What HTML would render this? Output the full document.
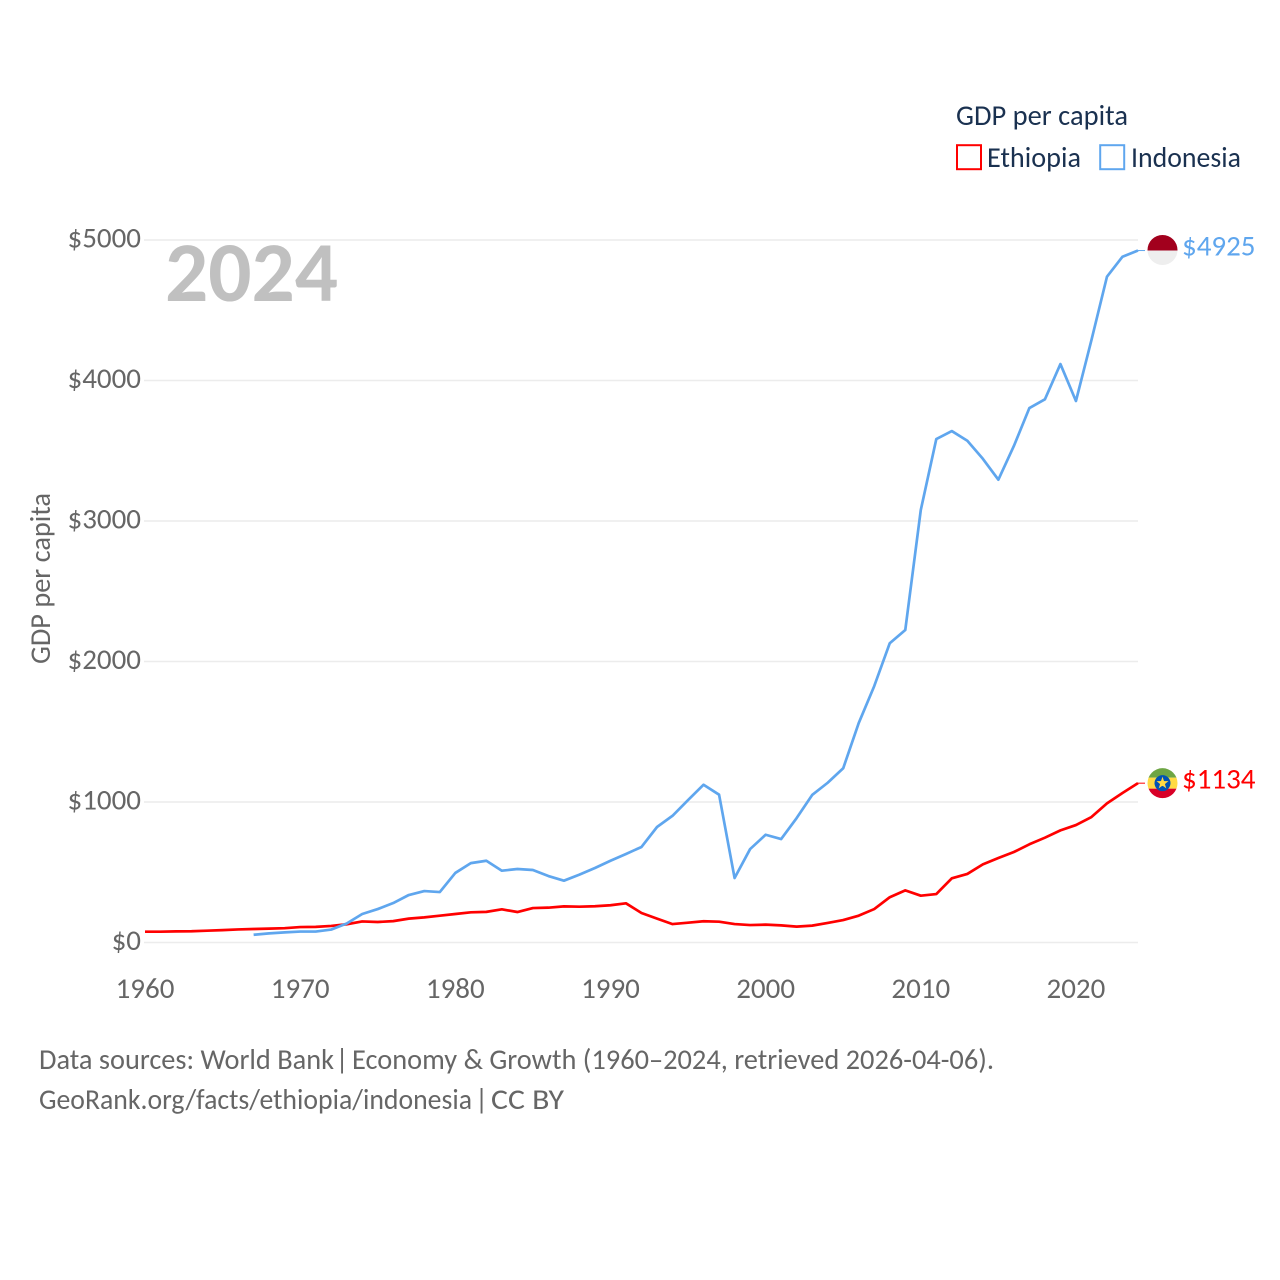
<!DOCTYPE html>
<html lang="en">
<head>
<meta charset="utf-8">
<title>GDP per capita: Ethiopia and Indonesia</title>
<style>
html,body{margin:0;padding:0;background:#fff;}
svg{display:block;}
text{font-family:"Carlito","Lato","Liberation Sans",sans-serif;}
</style>
</head>
<body>
<svg id="chart" xmlns="http://www.w3.org/2000/svg" width="1280" height="1280" viewBox="0 0 1280 1280">
  <defs>
    <clipPath id="flag-clip-id"><circle cx="0" cy="0" r="15"></circle></clipPath>
    <clipPath id="flag-clip-et"><circle cx="0" cy="0" r="15"></circle></clipPath>
  </defs>
  <rect width="1280" height="1280" fill="#ffffff"></rect>
  <g id="grid"></g>
  <g id="y-axis"></g>
  <g id="x-axis"></g>
  <text x="165" y="301" font-size="85" font-weight="700" fill="#c0c0c0" textLength="173" lengthAdjust="spacingAndGlyphs">2024</text>
  <text transform="translate(50,664) rotate(-90)" font-size="28.5" fill="#666666" textLength="171" lengthAdjust="spacingAndGlyphs">GDP per capita</text>
  <g id="series"></g>
  <g id="end-labels"></g>
  <g>
    <text x="956" y="125" font-size="28.5" fill="#1a3150" textLength="172" lengthAdjust="spacingAndGlyphs">GDP per capita</text>
    <g>
      <rect x="957" y="145.2" width="24" height="24" fill="#ffffff" stroke="#ff0000" stroke-width="2"></rect>
      <text x="987" y="167" font-size="28.5" fill="#1a3150" textLength="94" lengthAdjust="spacingAndGlyphs">Ethiopia</text>
    </g>
    <g>
      <rect x="1100.2" y="145.2" width="24" height="24" fill="#ffffff" stroke="#5fa6ee" stroke-width="2"></rect>
      <text x="1131" y="167" font-size="28.5" fill="#1a3150" textLength="110" lengthAdjust="spacingAndGlyphs">Indonesia</text>
    </g>
  </g>
  <g>
    <text x="39" y="1069" font-size="28.5" fill="#666666" textLength="295" lengthAdjust="spacingAndGlyphs">Data sources: World Bank</text>
    <text x="342" y="1069" font-size="28.5" fill="#666666" text-anchor="middle">|</text>
    <text x="352" y="1069" font-size="28.5" fill="#666666" textLength="642" lengthAdjust="spacingAndGlyphs">Economy &amp; Growth (1960–2024, retrieved 2026-04-06).</text>
  </g>
  <g>
    <text x="39" y="1109" font-size="28.5" fill="#666666" textLength="433" lengthAdjust="spacingAndGlyphs">GeoRank.org/facts/ethiopia/indonesia</text>
    <text x="481.5" y="1109" font-size="28.5" fill="#666666" text-anchor="middle">|</text>
    <text x="491" y="1109" font-size="28.5" fill="#666666" textLength="73" lengthAdjust="spacingAndGlyphs">CC BY</text>
  </g>
</svg>
<script>
const yearStart = 1960;
const yearEnd = 2024;
const xTickYears = [1960, 1970, 1980, 1990, 2000, 2010, 2020];
const yTickValues = [0, 1000, 2000, 3000, 4000, 5000];
const ethiopiaStartYear = 1960;
const ethiopiaValues = [77,77,79,80,84,88,93,96,99,102,110,111,118,130,150,146,152,170,179,191,203,215,218,236,217,245,248,257,255,258,265,279,210,170,131,141,151,148,131,124,127,122,113,120,139,160,191,238,322,371,333,345,457,488,556,601,644,699,746,798,836,893,990,1064,1134];
const indonesiaStartYear = 1967;
const indonesiaValues = [55,65,72,78,78,92,135,203,238,281,338,366,359,495,565,582,511,523,516,473,440,483,530,582,630,680,822,902,1014,1123,1052,459,665,767,736,886,1050,1137,1240,1562,1825,2130,2224,3078,3583,3640,3571,3443,3294,3534,3804,3866,4117,3854,4288,4739,4881,4925];
const ethiopiaLabel = "$1134";
const indonesiaLabel = "$4925";

const NS = "http://www.w3.org/2000/svg";
const xScale = function (year) { return 145 + (year - yearStart) * (993 / (yearEnd - yearStart)); };
const yScale = function (value) { return 942.5 - value * 0.1405; };
const make = function (tag, attrs, parent) {
  const el = document.createElementNS(NS, tag);
  Object.keys(attrs).forEach(function (k) { el.setAttribute(k, attrs[k]); });
  parent.appendChild(el);
  return el;
};

const grid = document.getElementById("grid");
const yAxis = document.getElementById("y-axis");
yTickValues.forEach(function (v) {
  const line = make("line", { x1: 144, x2: 1138, y1: yScale(v), y2: yScale(v), stroke: "#ececec", "stroke-width": 1.5 }, grid);
  
  
  const label = make("text", { x: 141, y: yScale(v) + 7.5, "text-anchor": "end", "font-size": 29, fill: "#666666" }, yAxis);
  label.textContent = "$" + v;
  
  
});

const xAxis = document.getElementById("x-axis");
xTickYears.forEach(function (y) {
  const label = make("text", { x: xScale(y), y: 998, "text-anchor": "middle", "font-size": 29, fill: "#666666" }, xAxis);
  label.textContent = String(y);
  
  
});

const seriesGroup = document.getElementById("series");
const buildPath = function (startYear, values) {
  return values.map(function (v, i) {
    return (i ? "L" : "M") + xScale(startYear + i).toFixed(2) + " " + yScale(v).toFixed(2);
  }).join(" ");
};
const ethiopiaLine = make("path", { d: buildPath(ethiopiaStartYear, ethiopiaValues), fill: "none", stroke: "#ff0000", "stroke-width": 2.7, "stroke-linejoin": "round" }, seriesGroup);


const indonesiaLine = make("path", { d: buildPath(indonesiaStartYear, indonesiaValues), fill: "none", stroke: "#5fa6ee", "stroke-width": 2.7, "stroke-linejoin": "round" }, seriesGroup);



const endGroup = document.getElementById("end-labels");
const endY = function (values) { return yScale(values[values.length - 1]); };

// Indonesia end marker
const idY = endY(indonesiaValues);
const idConn = make("line", { x1: xScale(yearEnd), x2: xScale(yearEnd) + 7, y1: idY, y2: idY, stroke: "#5fa6ee", "stroke-width": 1 }, endGroup);


const idFlag = make("g", { transform: "translate(1162.5," + (idY - 0.5) + ")", "clip-path": "url(#flag-clip-id)" }, endGroup);


make("rect", { x: -16, y: -16, width: 32, height: 16.5, fill: "#a2001d" }, idFlag);
make("rect", { x: -16, y: 0.5, width: 32, height: 16, fill: "#eeeeee" }, idFlag);
const idLabel = make("text", { x: 1182, y: idY + 5, "font-size": 29, fill: "#5fa6ee" }, endGroup);
idLabel.textContent = indonesiaLabel;



// Ethiopia end marker
const etY = endY(ethiopiaValues);
const etConn = make("line", { x1: xScale(yearEnd), x2: xScale(yearEnd) + 7, y1: etY, y2: etY, stroke: "#ff0000", "stroke-width": 1 }, endGroup);


const etFlag = make("g", { transform: "translate(1162.5," + etY + ")", "clip-path": "url(#flag-clip-et)" }, endGroup);


make("rect", { x: -16, y: -16, width: 32, height: 10.5, fill: "#6da544" }, etFlag);
make("rect", { x: -16, y: -5.5, width: 32, height: 11, fill: "#ffda44" }, etFlag);
make("rect", { x: -16, y: 5.5, width: 32, height: 11, fill: "#d80027" }, etFlag);
make("circle", { cx: 0, cy: 0, r: 8, fill: "#0052b4" }, etFlag);
make("polygon", { points: "0,-6.5 1.5,-2 6,-2 2.4,0.8 3.8,5.2 0,2.5 -3.8,5.2 -2.4,0.8 -6,-2 -1.5,-2", fill: "#ffda44" }, etFlag);
make("circle", { cx: 0, cy: 0, r: 2.8, fill: "#ffda44" }, etFlag);
const etLabel = make("text", { x: 1182, y: etY + 5.5, "font-size": 29, fill: "#ff0000" }, endGroup);
etLabel.textContent = ethiopiaLabel;


</script>
</body>
</html>
